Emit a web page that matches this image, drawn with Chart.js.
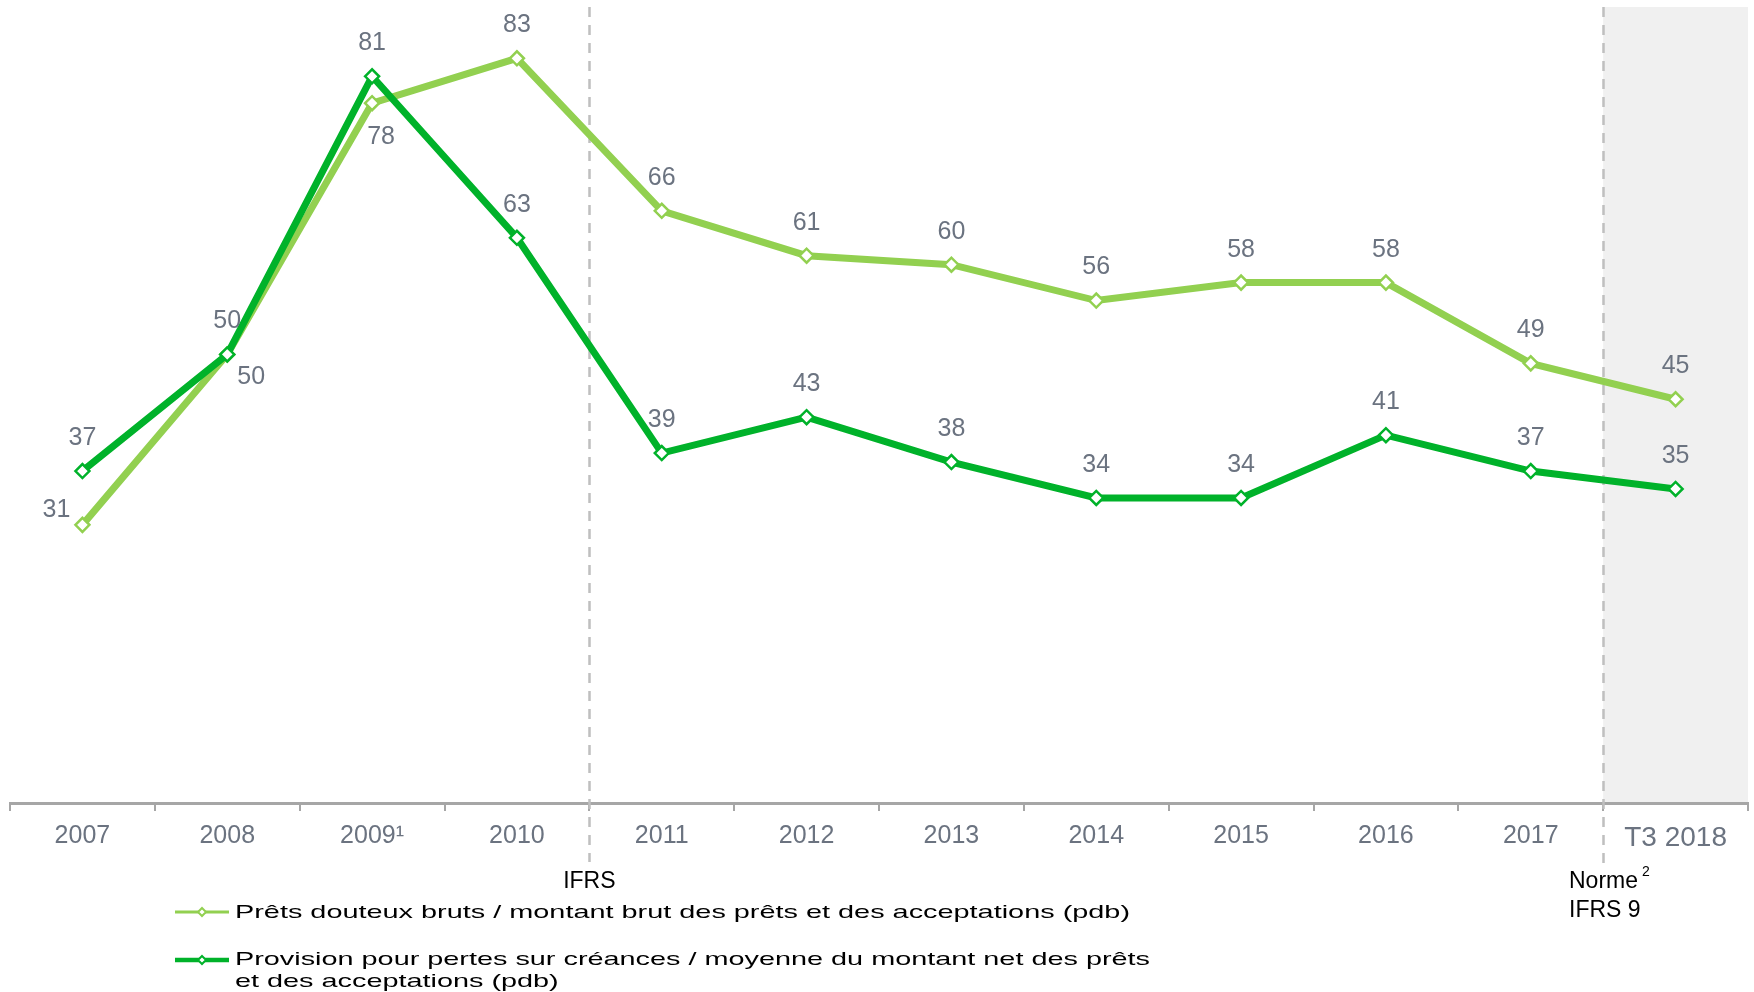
<!DOCTYPE html>
<html>
<head>
<meta charset="utf-8">
<script src="https://cdn.jsdelivr.net/npm/chart.js@4/dist/chart.umd.min.js"></script>
<style>
  html, body { margin: 0; padding: 0; background: #ffffff; }
  #wrap { width: 1754px; height: 992px; position: relative; }
</style>
</head>
<body>
<div id="wrap"><canvas id="c" width="1754" height="992"></canvas></div>
<script>
// ---- data ----
const categories = ['2007', '2008', '2009\u00B9', '2010', '2011', '2012', '2013', '2014', '2015', '2016', '2017', 'T3 2018'];
const pretsDouteux = [31, 50, 78, 83, 66, 61, 60, 56, 58, 58, 49, 45];
const provisionPertes = [37, 50, 81, 63, 39, 43, 38, 34, 34, 41, 37, 35];
const seriesNames = [
  'Pr\u00EAts douteux bruts / montant brut des pr\u00EAts et des acceptations (pdb)',
  'Provision pour pertes sur cr\u00E9ances / moyenne du montant net des pr\u00EAts'
];
const seriesName2Line2 = 'et des acceptations (pdb)';
// label placement relative to point
const pretsPlacement = ['left', 'belowRight', 'below', 'above', 'above', 'above', 'above', 'above', 'above', 'above', 'above', 'above'];
const provisionPlacement = ['above', 'above', 'above', 'above', 'above', 'above', 'above', 'above', 'above', 'above', 'above', 'above'];

const LIGHT = '#92d050';
const DARK = '#00b22a';
const LABEL_GRAY = '#6b7380';
const AXIS_GRAY = '#a6a6a6';
const FONT = '"Liberation Sans", Arial, sans-serif';

const placeOffsets = {
  above: [0, -33],
  left: [-26, -15],
  belowRight: [24, 23],
  below: [9, 34]
};

function boundaryX(xScale, i) {
  return (xScale.getPixelForValue(i) + xScale.getPixelForValue(i + 1)) / 2;
}

const decorPlugin = {
  id: 'decor',
  beforeDraw(chart) {
    const { ctx, chartArea, scales } = chart;
    const x = boundaryX(scales.x, 10);
    ctx.save();
    ctx.fillStyle = '#f0f0f0';
    ctx.fillRect(x, 7, chartArea.right - x, chartArea.bottom - 7);
    ctx.restore();
  },
  beforeDatasetsDraw(chart) {
    const { ctx, scales } = chart;
    ctx.save();
    ctx.strokeStyle = '#bfbfbf';
    ctx.lineWidth = 2.5;
    ctx.setLineDash([10, 8]);
    [[3, 862], [10, 867]].forEach(([i, yb]) => {
      const x = Math.round(boundaryX(scales.x, i)) + 0.5;
      ctx.beginPath();
      ctx.moveTo(x, 7);
      ctx.lineTo(x, yb);
      ctx.stroke();
    });
    ctx.restore();
  },
  afterDatasetsDraw(chart) {
    const { ctx } = chart;
    ctx.save();
    ctx.fillStyle = LABEL_GRAY;
    ctx.font = '25px ' + FONT;
    ctx.textAlign = 'center';
    ctx.textBaseline = 'middle';
    const placements = [provisionPlacement, pretsPlacement];
    const values = [provisionPertes, pretsDouteux];
    [0, 1].forEach(di => {
      const meta = chart.getDatasetMeta(di);
      meta.data.forEach((pt, i) => {
        const off = placeOffsets[placements[di][i]];
        ctx.fillText(String(values[di][i]), pt.x + off[0], pt.y + off[1]);
      });
    });
    ctx.restore();
  },
  afterDraw(chart) {
    const { ctx, scales } = chart;
    ctx.save();
    // annotations
    ctx.fillStyle = '#000000';
    ctx.font = '23px ' + FONT;
    ctx.textBaseline = 'alphabetic';
    ctx.textAlign = 'center';
    ctx.fillText('IFRS', boundaryX(scales.x, 3), 888);
    ctx.textAlign = 'left';
    ctx.fillText('Norme', 1569, 888);
    ctx.fillText('IFRS 9', 1569, 917);
    ctx.font = '14px ' + FONT;
    ctx.fillText('2', 1642, 876);

    // legend
    const drawMarker = (y, color, lw) => {
      ctx.strokeStyle = color;
      ctx.lineWidth = lw;
      ctx.setLineDash([]);
      ctx.beginPath();
      ctx.moveTo(175, y);
      ctx.lineTo(229, y);
      ctx.stroke();
      ctx.fillStyle = '#ffffff';
      ctx.lineWidth = 2;
      ctx.beginPath();
      ctx.moveTo(202, y - 4);
      ctx.lineTo(206, y);
      ctx.lineTo(202, y + 4);
      ctx.lineTo(198, y);
      ctx.closePath();
      ctx.fill();
      ctx.stroke();
    };
    drawMarker(912, LIGHT, 3);
    drawMarker(960, DARK, 4.5);

    ctx.fillStyle = '#000000';
    ctx.font = '19px ' + FONT;
    ctx.textAlign = 'left';
    ctx.textBaseline = 'middle';
    const drawStretched = (text, x, y, sx) => {
      ctx.save();
      ctx.translate(x, y);
      ctx.scale(sx, 1);
      ctx.fillText(text, 0, 0);
      ctx.restore();
    };
    const sx1 = 895 / ctx.measureText(seriesNames[0]).width;
    const sx2 = 915 / ctx.measureText(seriesNames[1]).width;
    drawStretched(seriesNames[0], 235, 913, sx1);
    drawStretched(seriesNames[1], 235, 960, sx2);
    drawStretched(seriesName2Line2, 235, 982, sx2);
    ctx.restore();
  }
};

new Chart(document.getElementById('c'), {
  type: 'line',
  data: {
    labels: categories,
    datasets: [
      {
        label: seriesNames[1],
        data: provisionPertes,
        borderColor: DARK,
        borderWidth: 7,
        pointStyle: 'rectRot',
        pointRadius: 7,
        pointBorderWidth: 2.5,
        pointBackgroundColor: '#ffffff',
        pointBorderColor: DARK,
        tension: 0,
        order: 0
      },
      {
        label: seriesNames[0],
        data: pretsDouteux,
        borderColor: LIGHT,
        borderWidth: 7,
        pointStyle: 'rectRot',
        pointRadius: 7,
        pointBorderWidth: 2.5,
        pointBackgroundColor: '#ffffff',
        pointBorderColor: LIGHT,
        tension: 0,
        order: 1
      }
    ]
  },
  options: {
    responsive: false,
    animation: false,
    layout: { autoPadding: false, padding: { left: 10, right: 6, top: 0, bottom: 0 } },
    plugins: { legend: { display: false }, tooltip: { enabled: false } },
    scales: {
      x: {
        type: 'category',
        offset: true,
        grid: {
          display: true,
          offset: true,
          drawOnChartArea: false,
          drawTicks: true,
          tickLength: 8,
          color: AXIS_GRAY,
          lineWidth: 2
        },
        border: { display: true, color: AXIS_GRAY, width: 3 },
        ticks: {
          color: LABEL_GRAY,
          padding: 10,
          maxRotation: 0,
          autoSkip: false,
          font: (ctx) => ({ family: FONT, size: ctx.index === 11 ? 28 : 25 })
        },
        afterFit(scale) { scale.height = 189; }
      },
      y: {
        display: false,
        min: 0,
        max: 89.5
      }
    }
  },
  plugins: [decorPlugin]
});
</script>
</body>
</html>
